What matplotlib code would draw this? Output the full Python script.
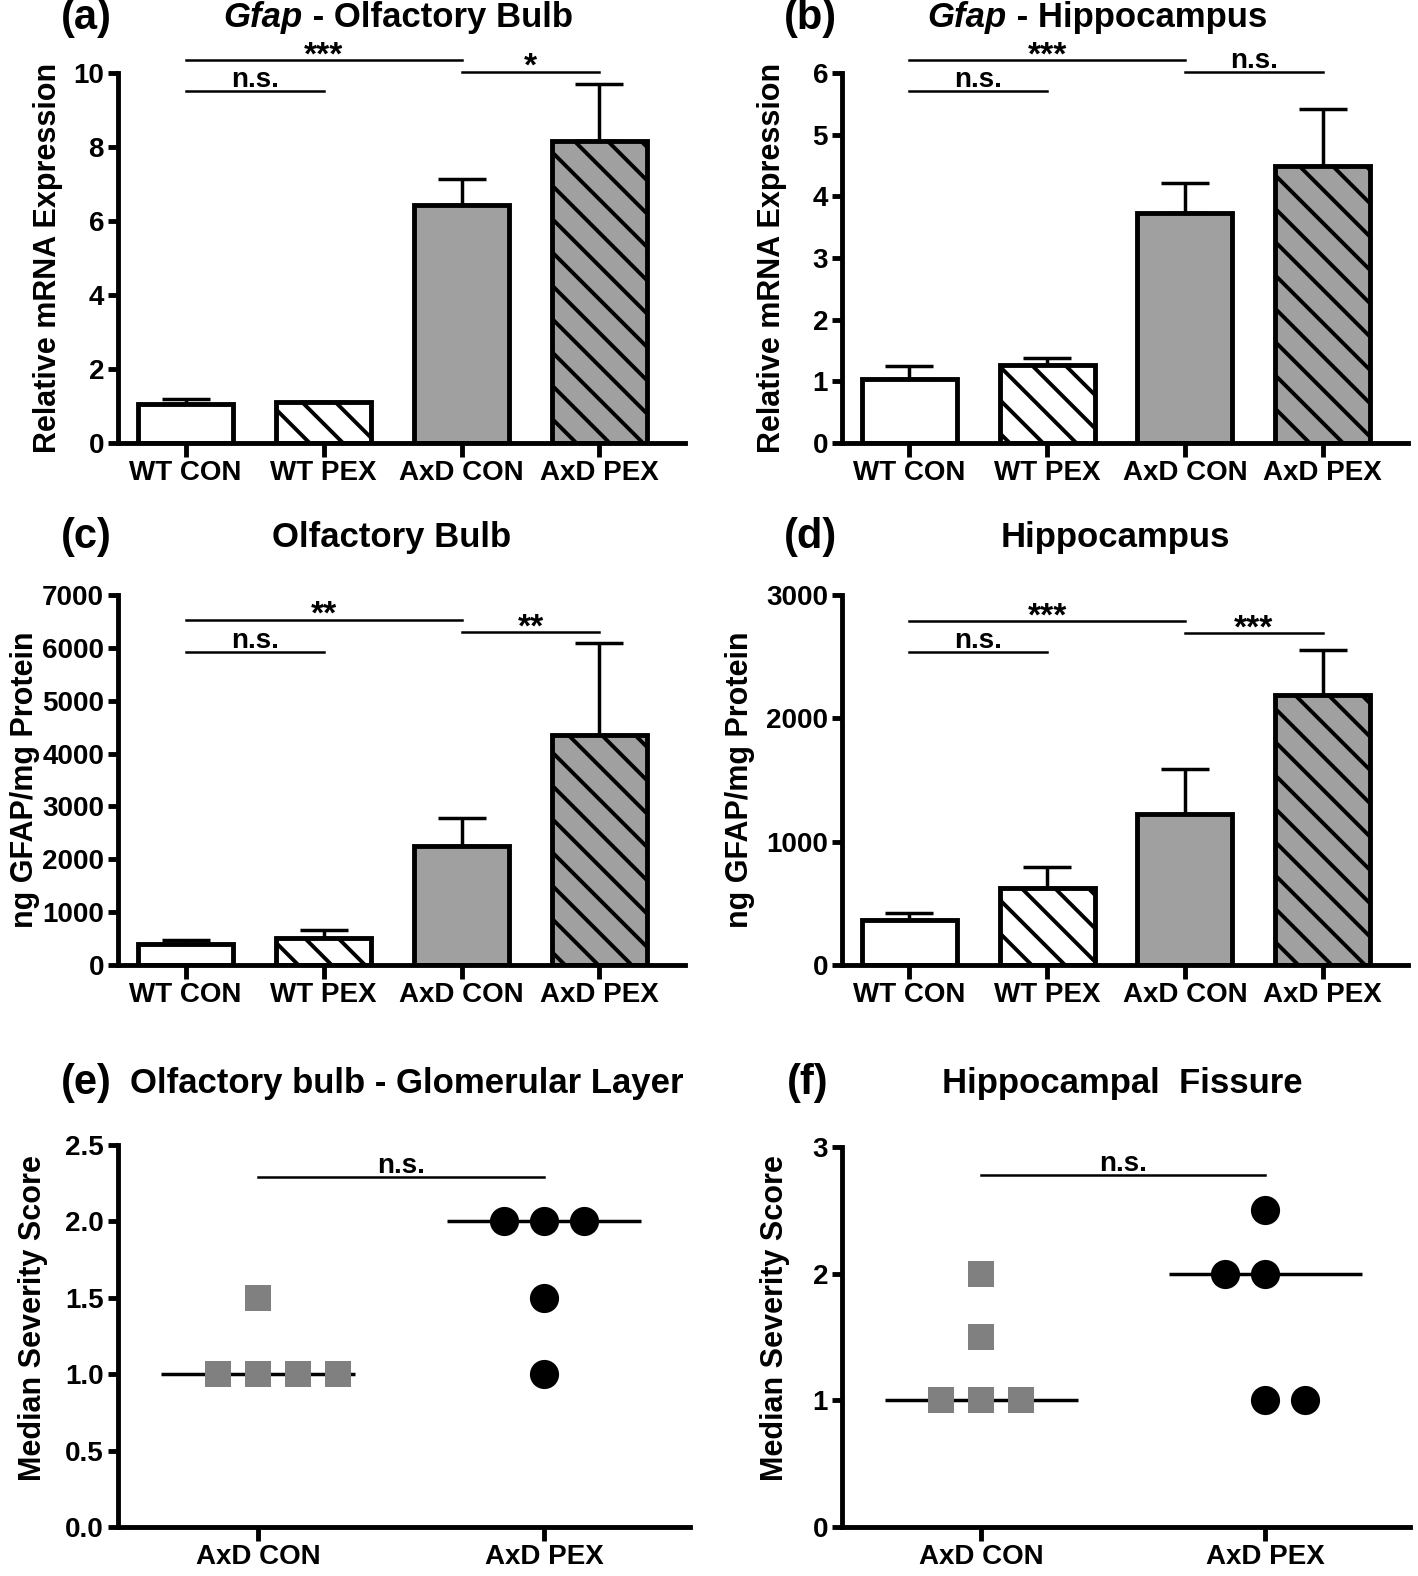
import matplotlib
matplotlib.use('Agg')
import matplotlib.pyplot as plt
import numpy as np

NARROW = ['Liberation Sans Narrow', 'Liberation Sans', 'DejaVu Sans']
WIDE = ['Liberation Sans', 'DejaVu Sans']
plt.rcParams['hatch.linewidth'] = 2.8

# ---- data ----
groups = ['WT CON', 'WT PEX', 'AxD CON', 'AxD PEX']
mrna_ob = [1.05, 1.10, 6.43, 8.16]
mrna_ob_err = [0.13, 0.02, 0.71, 1.54]
mrna_hc = [1.04, 1.26, 3.73, 4.49]
mrna_hc_err = [0.21, 0.12, 0.49, 0.93]
prot_ob = [390, 520, 2250, 4350]
prot_ob_err = [90, 150, 530, 1740]
prot_hc = [365, 624, 1224, 2189]
prot_hc_err = [57, 171, 365, 365]

score_groups = ['AxD CON', 'AxD PEX']
ob_con = [1.0, 1.0, 1.0, 1.0, 1.5]
ob_pex = [2.0, 2.0, 2.0, 1.5, 1.0]
hc_con = [1.0, 1.0, 1.0, 1.5, 2.0]
hc_pex = [2.5, 2.0, 2.0, 1.0, 1.0]

# significance brackets: (from, to, height, label)
sig_a = [(0, 1, 9.51, 'n.s.'), (0, 2, 10.35, '***'), (2, 3, 10.03, '*')]
sig_b = [(0, 1, 5.71, 'n.s.'), (0, 2, 6.21, '***'), (2, 3, 6.02, 'n.s.')]
sig_c = [(0, 1, 5920, 'n.s.'), (0, 2, 6530, '**'), (2, 3, 6300, '**')]
sig_d = [(0, 1, 2538, 'n.s.'), (0, 2, 2789, '***'), (2, 3, 2692, '***')]
sig_e = [(0, 1, 2.29, 'n.s.')]
sig_f = [(0, 1, 2.78, 'n.s.')]

fills = ['white', 'white', '#a0a0a0', '#a0a0a0']
hatches = ['', '\\', '', '\\']

W, H = 1418, 1576
fig = plt.figure(figsize=(W / 100, H / 100), dpi=100)


def px_axes(l, r, t, b):
    return fig.add_axes([l / W, 1 - b / H, (r - l) / W, (b - t) / H])


def ftext(x, y, s, **kw):
    return fig.text(x / W, 1 - y / H, s, **kw)


def style(ax):
    for s in ['top', 'right']:
        ax.spines[s].set_visible(False)
    for s in ['left', 'bottom']:
        ax.spines[s].set_linewidth(3.5)
    ax.tick_params(axis='x', length=10, width=3.5, pad=2, labelsize=20)
    ax.tick_params(axis='y', length=7, width=3.5, pad=3, labelsize=20)
    for lbl in ax.get_xticklabels() + ax.get_yticklabels():
        lbl.set_fontfamily(NARROW)
        lbl.set_fontweight('bold')


def add_sigs(ax, sigs):
    for i, j, y, txt in sigs:
        ax.plot([i, j], [y, y], color='k', lw=1.8, clip_on=False)
        star = txt.startswith('*')
        ax.annotate(txt, xy=((i + j) / 2, y), xytext=(0, -3 if star else 3),
                    textcoords='offset points', ha='center', va='baseline',
                    fontsize=24 if star else 20, fontweight='bold',
                    family=NARROW, annotation_clip=False)


def bar_panel(ax, vals, errs, ymax, yticks, sigs):
    x = np.arange(len(groups))
    ax.errorbar(x, vals, yerr=[np.zeros(len(vals)), errs], fmt='none', ecolor='k',
                elinewidth=2.5, capsize=17, capthick=2.5, zorder=1)
    bars = ax.bar(x, vals, width=0.69, color=fills, edgecolor='k', linewidth=3.5, zorder=2)
    for b, h in zip(bars, hatches):
        b.set_hatch(h)
    ax.set_xlim(-0.49, 3.62)
    ax.set_ylim(0, ymax)
    ax.set_yticks(yticks)
    ax.set_xticks(x, groups)
    style(ax)
    add_sigs(ax, sigs)


def dot_panel(ax, con, pex, con_slots, pex_slots, ymax, yticks, fmt, sigs):
    step = 0.14
    ax.plot(0 + np.array(con_slots) * step, con, 's', ms=19, color='#808080', mew=0, zorder=3, clip_on=False)
    ax.plot(1 + np.array(pex_slots) * step, pex, 'o', ms=21, color='black', mew=0, zorder=3, clip_on=False)
    ax.hlines(np.median(con), -0.34, 0.34, color='k', lw=2.5, zorder=2)
    ax.hlines(np.median(pex), 0.66, 1.34, color='k', lw=2.5, zorder=2)
    ax.set_xlim(-0.49, 1.51)
    ax.set_ylim(0, ymax)
    ax.set_yticks(yticks, [fmt.format(v) for v in yticks])
    ax.set_xticks([0, 1], score_groups)
    style(ax)
    add_sigs(ax, sigs)


ax_a = px_axes(118, 685, 73, 443)
ax_b = px_axes(842, 1408, 73, 443)
ax_c = px_axes(118, 685, 595, 965)
ax_d = px_axes(842, 1408, 595, 965)
ax_e = px_axes(118, 690, 1145, 1527)
ax_f = px_axes(842, 1410, 1147, 1527)

bar_panel(ax_a, mrna_ob, mrna_ob_err, 10, np.arange(0, 11, 2), sig_a)
bar_panel(ax_b, mrna_hc, mrna_hc_err, 6, np.arange(0, 7, 1), sig_b)
bar_panel(ax_c, prot_ob, prot_ob_err, 7000, np.arange(0, 7001, 1000), sig_c)
bar_panel(ax_d, prot_hc, prot_hc_err, 3000, np.arange(0, 3001, 1000), sig_d)
dot_panel(ax_e, ob_con, ob_pex, [-1, 0, 1, 2, 0], [-1, 0, 1, 0, 0], 2.5,
          np.arange(0, 2.51, 0.5), '{:.1f}', sig_e)
dot_panel(ax_f, hc_con, hc_pex, [-1, 0, 1, 0, 0], [0, -1, 0, 0, 1], 3,
          np.arange(0, 4, 1), '{:.0f}', sig_f)

# y labels
ylab = dict(rotation=90, ha='center', va='center', fontsize=22, fontweight='bold', family=WIDE)
ftext(48, 258, 'Relative mRNA Expression', **ylab)
ftext(772, 258, 'Relative mRNA Expression', **ylab)
ftext(25, 780, 'ng GFAP/mg Protein', **ylab)
ftext(740, 780, 'ng GFAP/mg Protein', **ylab)
ftext(33, 1318, 'Median Severity Score', **ylab)
ftext(775, 1318, 'Median Severity Score', **ylab)

# panel letters and titles
let = dict(ha='center', va='center', fontsize=30, fontweight='bold', family=WIDE)
tit = dict(va='center', fontsize=25, fontweight='bold', family=NARROW)
ftext(86, 18, '(a)', **let)
ftext(810, 18, '(b)', **let)
ftext(86, 537, '(c)', **let)
ftext(810, 537, '(d)', **let)
ftext(86, 1083, '(e)', **let)
ftext(808, 1083, '(f)', **let)

ftext(303, 18, 'Gfap', ha='right', style='italic', **tit)
ftext(303, 18, ' - Olfactory Bulb', ha='left', **tit)
ftext(1007, 18, 'Gfap', ha='right', style='italic', **tit)
ftext(1007, 18, ' - Hippocampus', ha='left', **tit)
ftext(392, 537, 'Olfactory Bulb', ha='center', **tit)
ftext(1115, 537, 'Hippocampus', ha='center', **tit)
ftext(130, 1083, 'Olfactory bulb - Glomerular Layer', ha='left', **tit)
ftext(1122, 1083, 'Hippocampal  Fissure', ha='center', **tit)

fig.savefig('out.png', dpi=100)
